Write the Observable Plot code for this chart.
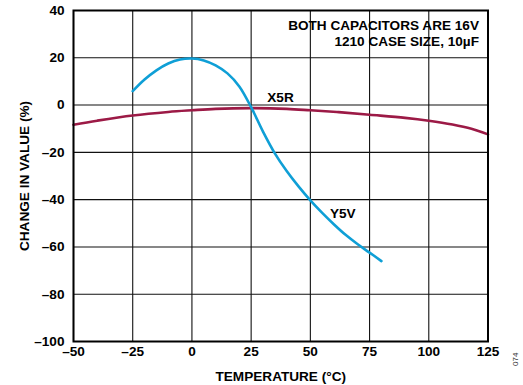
<!DOCTYPE html>
<html>
<head>
<meta charset="utf-8">
<script src="https://cdn.jsdelivr.net/npm/d3@7"></script>
<script src="https://cdn.jsdelivr.net/npm/@observablehq/plot@0.6"></script>
<style>
  html, body { margin: 0; padding: 0; background: #fff; }
  #chart { position: relative; width: 523px; height: 385px; }
  .code { position: absolute; left: 511px; top: 366px; font: 8px "Liberation Sans", Arial, sans-serif; color: #333; transform: rotate(-90deg); transform-origin: left top; }
</style>
</head>
<body>
<div id="chart"></div>
<script>
const y5vTemp  = [-25, -20, -15, -10, -5, 0, 5, 10, 15, 20, 25, 30, 35, 40, 45, 50, 55, 60, 65, 70, 75, 80];
const y5vValue = [5.9, 10.8, 14.7, 17.6, 19.3, 19.7, 18.9, 16.8, 13.4, 7.9, -0.9, -11.2, -20.4, -27.9, -34.4, -40.3, -45.6, -50.5, -55.0, -58.9, -62.4, -66.0];
const x5rTemp  = [-50, -40, -25, -10, 0, 10, 25, 40, 50, 62, 75, 90, 100, 110, 118, 125];
const x5rValue = [-8.3, -6.6, -4.4, -2.9, -2.2, -1.6, -1.3, -1.6, -2.2, -3.0, -4.1, -5.4, -6.6, -8.2, -10, -12.4];
const xTicks = [-50, -25, 0, 25, 50, 75, 100, 125];
const yTicks = [-100, -80, -60, -40, -20, 0, 20, 40];
const seriesLabels = [
  {name: "X5R", t: 37.4, v: 3.2},
  {name: "Y5V", t: 63.7, v: -46}
];
const noteLines = ["BOTH CAPACITORS ARE 16V", "1210 CASE SIZE, 10µF"];

const y5v = y5vTemp.map((t, i) => ({t, v: y5vValue[i]}));
const x5r = x5rTemp.map((t, i) => ({t, v: x5rValue[i]}));
const fmt = d => d < 0 ? "\u2013" + Math.abs(d) : String(d);
const FONT = "'Liberation Sans', Arial, sans-serif";
const FS = 13.6;

const chart = Plot.plot({
  width: 523,
  height: 385,
  marginLeft: 73,
  marginRight: 35.5,
  marginTop: 10,
  marginBottom: 44,
  style: {fontFamily: FONT, fontSize: FS + "px", fontWeight: "bold", color: "#000", background: "#fff"},
  x: {domain: [-50, 125]},
  y: {domain: [-100, 40]},
  marks: [
    Plot.gridX(xTicks, {stroke: "#111", strokeOpacity: 1, strokeWidth: 1.1}),
    Plot.gridY(yTicks, {stroke: "#111", strokeOpacity: 1, strokeWidth: 1.1}),
    Plot.axisX(xTicks, {tickSize: 0, tickPadding: 5, tickFormat: fmt, fontSize: FS, fontWeight: "bold",
      label: "TEMPERATURE (°C)", labelAnchor: "center", labelArrow: "none", labelOffset: 39}),
    Plot.axisY(yTicks, {tickSize: 0, tickPadding: 9, tickFormat: fmt, fontSize: FS, fontWeight: "bold",
      label: "CHANGE IN VALUE (%)", labelAnchor: "center", labelArrow: "none", labelOffset: 54}),
    Plot.line(x5r, {x: "t", y: "v", stroke: "#9c1a46", strokeWidth: 2.6, curve: "catmull-rom"}),
    Plot.line(y5v, {x: "t", y: "v", stroke: "#0f9fd6", strokeWidth: 2.6, curve: "catmull-rom"}),
    Plot.text(seriesLabels, {x: "t", y: "v", text: "name", fontSize: FS, fontWeight: "bold", fill: "#000", textAnchor: "middle"}),
    Plot.text([noteLines.join("\n")], {frameAnchor: "top-right", dx: -9, dy: 8, lineHeight: 1.2, fontSize: FS, fontWeight: "bold", fill: "#000", textAnchor: "end"}),
    Plot.frame({stroke: "#000", strokeWidth: 2})
  ]
});
const root = document.getElementById("chart");
root.appendChild(chart);
const code = document.createElement("div");
code.className = "code";
code.textContent = "074";
root.appendChild(code);
</script>
</body>
</html>
